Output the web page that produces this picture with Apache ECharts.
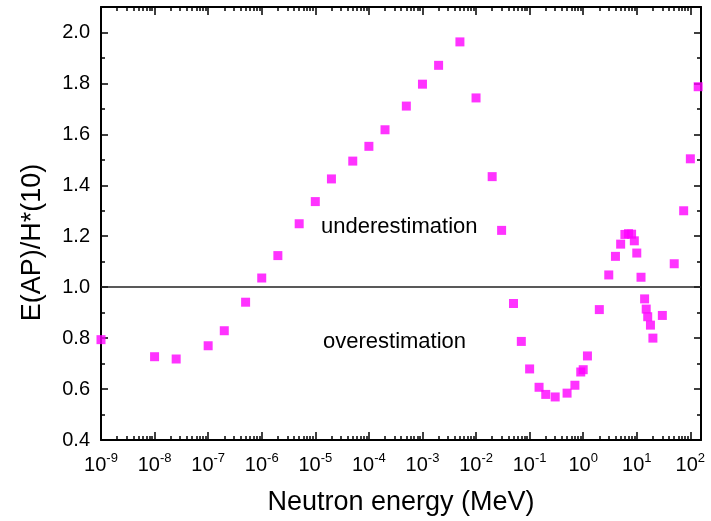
<!DOCTYPE html>
<html>
<head>
<meta charset="utf-8">
<script src="https://cdn.jsdelivr.net/npm/echarts@6/dist/echarts.min.js"></script>
<style>
  html, body { margin: 0; padding: 0; background: #fff; }
  #chart { width: 711px; height: 521px; }
</style>
</head>
<body>
<div id="chart"></div>
<script>
// neutron energy (MeV) and E(AP)/H*(10) ratio
var energy = [1e-9, 1e-8, 2.53e-8, 1e-7, 2e-7, 5e-7, 1e-6, 2e-6, 5e-6, 1e-5, 2e-5, 5e-5,
  1e-4, 2e-4, 5e-4, 1e-3, 2e-3, 5e-3, 1e-2, 2e-2, 3e-2, 5e-2, 7e-2, 0.1, 0.15, 0.2, 0.3,
  0.5, 0.7, 0.9, 1, 1.2, 2, 3, 4, 5, 6, 7, 8, 9, 10, 12, 14, 15, 16, 18, 20, 30, 50, 75,
  100, 140];
var ratio = [0.794, 0.727, 0.718, 0.770, 0.829, 0.941, 1.036, 1.124, 1.249, 1.336, 1.425, 1.495,
  1.553, 1.618, 1.711, 1.797, 1.871, 1.963, 1.743, 1.434, 1.223, 0.936, 0.787, 0.679, 0.607, 0.579, 0.569,
  0.584, 0.615, 0.667, 0.676, 0.730, 0.912, 1.048, 1.121, 1.169, 1.207, 1.210, 1.208, 1.182, 1.134, 1.039,
  0.954, 0.914, 0.884, 0.851, 0.800, 0.889, 1.092, 1.300, 1.504, 1.787];

// axis ticks
var decades = [-9, -8, -7, -6, -5, -4, -3, -2, -1, 0, 1, 2];
var minorSteps = [2, 3, 4, 5, 6, 7, 8, 9];
var yMajor = [0.4, 0.6, 0.8, 1.0, 1.2, 1.4, 1.6, 1.8, 2.0];
var yMinor = [0.5, 0.7, 0.9, 1.1, 1.3, 1.5, 1.7, 1.9];
var refLevel = 1.0;

var xMin = -9, xMax = Math.log10(158);
var yMin = 0.4, yMax = 2.1;
var FONT = 'Liberation Sans';

var xMinor = [];
decades.forEach(function (d) {
  minorSteps.forEach(function (k) {
    var v = d + Math.log10(k);
    if (v < xMax) xMinor.push(v);
  });
});

var points = energy.map(function (e, i) { return [Math.log10(e), ratio[i]]; });

function xAxisCfg(pos, ticks, len, withLabels) {
  var a = {
    type: 'value', position: pos, min: xMin, max: xMax, interval: 1,
    axisLine: { show: len > 5, onZero: false, lineStyle: { color: '#000', width: 2 } },
    axisTick: { inside: true, length: len, customValues: ticks, lineStyle: { color: '#000', width: 1.5 } },
    axisLabel: { show: false },
    splitLine: { show: false }
  };
  if (withLabels) {
    a.axisLabel = {
      show: true, customValues: decades, margin: 12,
      formatter: function (v) { return '{b|10}{s|' + Math.round(v) + '}'; },
      rich: {
        b: { fontSize: 20, fontFamily: FONT, color: '#000', verticalAlign: 'bottom', padding: [3, 0, 0, 0] },
        s: { fontSize: 13, fontFamily: FONT, color: '#000', verticalAlign: 'top' }
      }
    };
    a.name = 'Neutron energy (MeV)';
    a.nameLocation = 'middle';
    a.nameGap = 49;
    a.nameTextStyle = { fontSize: 27, fontFamily: FONT, color: '#000' };
  }
  return a;
}

function yAxisCfg(pos, ticks, len, withLabels) {
  var a = {
    type: 'value', position: pos, min: yMin, max: yMax, interval: 0.2,
    axisLine: { show: len > 5, onZero: false, lineStyle: { color: '#000', width: 2 } },
    axisTick: { inside: true, length: len, customValues: ticks, lineStyle: { color: '#000', width: 1.5 } },
    axisLabel: { show: false },
    splitLine: { show: false }
  };
  if (withLabels) {
    a.axisLabel = {
      show: true, customValues: yMajor, margin: 11,
      fontSize: 20, fontFamily: FONT, color: '#000',
      formatter: function (v) { return v.toFixed(1); }
    };
    a.name = 'E(AP)/H*(10)';
    a.nameLocation = 'middle';
    a.nameGap = 55;
    a.nameTextStyle = { fontSize: 27, fontFamily: FONT, color: '#000', padding: [0, 38, 0, 0] };
  }
  return a;
}

var myChart = echarts.init(document.getElementById('chart'));
myChart.setOption({
  animation: false,
  backgroundColor: '#fff',
  grid: { left: 101, right: 10, top: 7, bottom: 79 },
  xAxis: [
    xAxisCfg('bottom', decades, 8, true),
    xAxisCfg('bottom', xMinor, 4, false),
    xAxisCfg('top', decades, 8, false),
    xAxisCfg('top', xMinor, 4, false)
  ],
  yAxis: [
    yAxisCfg('left', yMajor, 7, true),
    yAxisCfg('left', yMinor, 4, false),
    yAxisCfg('right', yMajor, 7, false),
    yAxisCfg('right', yMinor, 4, false)
  ],
  graphic: [
    { type: 'text', left: 321, top: 216, style: { text: 'underestimation', font: '22px "Liberation Sans"', fill: '#000' } },
    { type: 'text', left: 323, top: 331, style: { text: 'overestimation', font: '22px "Liberation Sans"', fill: '#000' } }
  ],
  series: [{
    type: 'scatter',
    xAxisIndex: 0, yAxisIndex: 0,
    data: points,
    symbol: 'rect',
    symbolSize: 9,
    clip: true,
    itemStyle: { color: '#ff00ff' },
    markLine: {
      silent: true,
      symbol: ['none', 'none'],
      label: { show: false },
      lineStyle: { color: '#222', width: 1.5, type: 'solid' },
      data: [{ yAxis: refLevel }]
    }
  }]
});
</script>
</body>
</html>
